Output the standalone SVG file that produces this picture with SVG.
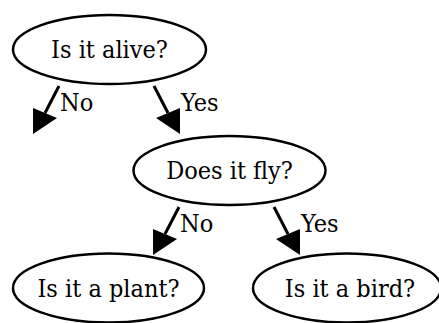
<svg xmlns="http://www.w3.org/2000/svg" width="439" height="323" viewBox="0 0 439 323">
<style>
.n ellipse{fill:#fff;stroke:#000;stroke-width:2.5}
text{font-family:"DejaVu Serif Condensed","DejaVu Serif",serif;font-stretch:condensed;font-size:25px;fill:#000}
.n text{text-anchor:middle}
.e line{stroke:#000;stroke-width:3}
.e polygon{fill:#000}
</style>
<rect width="439" height="323" fill="#fff"/>
<g id="n1" class="n"><ellipse cx="109.5" cy="49.5" rx="96.5" ry="34.5"/><text x="109.5" y="58">Is it alive?</text></g>
<g id="n2" class="n"><ellipse cx="229.5" cy="170.5" rx="96" ry="34.5"/><text x="229.5" y="179">Does it fly?</text></g>
<g id="n3" class="n"><ellipse cx="108.5" cy="288" rx="95.5" ry="34.5"/><text x="108.5" y="296.5">Is it a plant?</text></g>
<g id="n4" class="n"><ellipse cx="347" cy="288" rx="94" ry="34.5"/><text x="350" y="296.5">Is it a bird?</text></g>
<g id="edges" class="e">
<line x1="59" y1="86" x2="45" y2="113"/><polygon points="33,134 33,108 57,118"/>
<line x1="154" y1="86" x2="168" y2="113"/><polygon points="180,134 180,108 156,118"/>
<line x1="179" y1="207" x2="165" y2="234"/><polygon points="153,255 153,229 177,239"/>
<line x1="274" y1="207" x2="288" y2="234"/><polygon points="300,255 300,229 276,239"/>
<text x="60" y="111">No</text>
<text x="181" y="111">Yes</text>
<text x="180" y="232">No</text>
<text x="301" y="232">Yes</text>
</g>
</svg>
